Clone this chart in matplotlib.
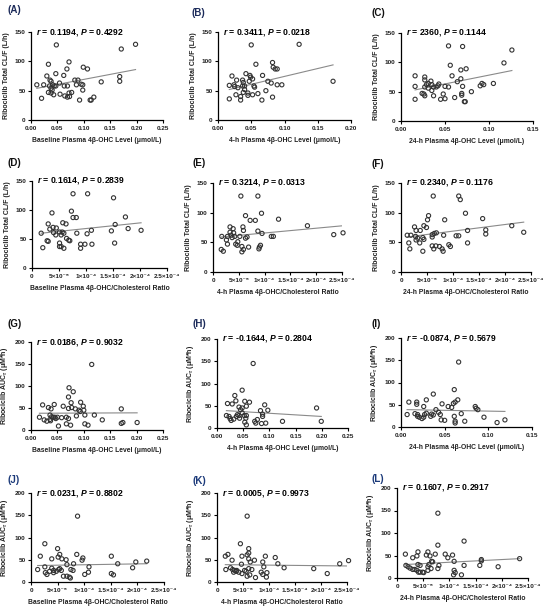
import numpy as np
import matplotlib
matplotlib.use('Agg')
import matplotlib.pyplot as plt

plt.rcParams['font.family'] = ['Liberation Sans', 'DejaVu Sans']
plt.rcParams['mathtext.fontset'] = 'custom'
plt.rcParams['mathtext.rm'] = 'Liberation Sans:bold'
plt.rcParams['mathtext.it'] = 'Liberation Sans:italic:bold'
plt.rcParams['mathtext.bf'] = 'Liberation Sans:bold'

# ---- data ----
# ratio panels are stored in units of 1e-5
a_x = [0.048, 0.171, 0.198, 0.033, 0.072, 0.068, 0.099, 0.107, 0.047, 0.062, 0.030, 0.011, 0.024, 0.036,
       0.038, 0.035, 0.041, 0.044, 0.047, 0.054, 0.063, 0.069, 0.083, 0.089, 0.086, 0.095, 0.098, 0.098,
       0.038, 0.040, 0.033, 0.038, 0.043, 0.055, 0.064, 0.069, 0.072, 0.077, 0.073, 0.020, 0.092, 0.112,
       0.114, 0.119, 0.133, 0.168, 0.168]
a_y = [128, 121, 129, 95, 99, 87, 90, 87, 79, 76, 75, 60, 60, 68, 66, 58, 60, 58, 58, 63, 58, 58, 68, 68,
       60, 61, 60, 51, 54, 51, 47, 46, 43, 44, 41, 39, 46, 47, 40, 37, 34, 34, 34, 39, 65, 66, 74]

b_x = [0.050, 0.122, 0.057, 0.082, 0.083, 0.086, 0.089, 0.021, 0.042, 0.049, 0.052, 0.067, 0.048, 0.028,
       0.037, 0.038, 0.047, 0.017, 0.024, 0.025, 0.030, 0.037, 0.040, 0.054, 0.075, 0.080, 0.096, 0.089,
       0.040, 0.038, 0.045, 0.045, 0.052, 0.027, 0.034, 0.034, 0.072, 0.060, 0.066, 0.082, 0.017, 0.173,
       0.055]
b_y = [128, 129, 95, 98, 90, 87, 87, 75, 79, 73, 70, 76, 76, 68, 68, 64, 66, 59, 60, 57, 55, 58, 58, 58,
       66, 63, 60, 60, 52, 47, 46, 42, 43, 43, 40, 34, 50, 45, 34, 39, 36, 66, 56]

c_x = [0.054, 0.070, 0.126, 0.056, 0.117, 0.068, 0.074, 0.058, 0.068, 0.016, 0.027, 0.027, 0.031, 0.034,
       0.035, 0.029, 0.037, 0.027, 0.043, 0.042, 0.050, 0.054, 0.064, 0.070, 0.016, 0.026, 0.027, 0.024,
       0.037, 0.048, 0.045, 0.050, 0.061, 0.069, 0.069, 0.072, 0.073, 0.080, 0.090, 0.092, 0.094, 0.105,
       0.016, 0.031, 0.035, 0.040]
c_y = [128, 127, 121, 95, 99, 87, 89, 77, 72, 77, 70, 75, 64, 68, 62, 62, 58, 58, 63, 60, 59, 58, 67, 59,
       59, 46, 43, 47, 43, 46, 37, 38, 40, 44, 47, 33, 33, 50, 60, 64, 62, 64, 37, 56, 52, 58]

d_x = [7.6, 10.3, 15.1, 3.7, 7.3, 7.6, 8.2, 17.3, 5.7, 6.3, 3.0, 3.3, 3.9, 4.5, 4.0, 5.1, 5.6, 5.9, 5.4,
       4.4, 1.7, 6.4, 6.8, 7.0, 8.3, 10.2, 11.0, 14.7, 15.4, 17.8, 20.2, 2.8, 3.0, 5.1, 5.1, 5.9, 5.4,
       9.0, 9.8, 9.0, 11.1, 15.3, 2.0]
d_y = [128, 128, 121, 95, 98, 87, 87, 88, 78, 76, 76, 67, 70, 69, 61, 62, 62, 60, 57, 57, 60, 51, 48, 47,
       60, 59, 65, 64, 75, 68, 65, 47, 46, 43, 37, 34, 37, 41, 41, 34, 41, 43, 35]

e_x = [5.4, 8.7, 6.3, 9.4, 7.2, 8.2, 12.7, 8.7, 3.3, 3.9, 5.8, 5.9, 3.3, 4.0, 3.5, 4.2, 2.8, 1.7, 2.6,
       3.7, 5.2, 6.3, 6.6, 9.5, 11.3, 11.7, 18.3, 23.4, 25.2, 2.8, 4.4, 4.7, 4.8, 5.6, 5.9, 5.6, 6.9,
       9.0, 8.9, 9.2, 1.6, 2.0]
e_y = [128, 128, 95, 99, 87, 87, 89, 69, 76, 73, 76, 70, 67, 66, 62, 60, 60, 60, 54, 58, 60, 57, 59, 65,
       60, 60, 78, 63, 66, 47, 47, 45, 51, 43, 38, 34, 42, 42, 39, 45, 38, 35]

f_x = [6.2, 11.1, 11.4, 12.4, 5.3, 5.1, 8.4, 15.7, 4.4, 4.9, 2.6, 2.9, 3.7, 1.2, 1.9, 2.8, 3.2, 2.9,
       4.2, 4.4, 6.0, 6.0, 6.4, 6.8, 8.2, 10.6, 11.1, 12.8, 16.3, 16.3, 21.3, 23.6, 3.6, 6.0, 6.3, 6.7,
       7.4, 7.9, 8.1, 9.2, 9.5, 12.8, 4.2, 1.7, 1.5]
f_y = [128, 128, 122, 99, 95, 88, 88, 90, 78, 75, 76, 70, 70, 62, 62, 60, 57, 54, 58, 55, 59, 63, 65, 66,
       62, 61, 61, 70, 71, 64, 78, 67, 49, 44, 39, 44, 43, 39, 35, 46, 43, 49, 35, 39, 49]

g_x = [0.115, 0.072, 0.080, 0.071, 0.094, 0.076, 0.099, 0.100, 0.091, 0.084, 0.077, 0.071, 0.061, 0.044,
       0.038, 0.022, 0.033, 0.171, 0.016, 0.025, 0.030, 0.036, 0.039, 0.042, 0.045, 0.047, 0.050, 0.036,
       0.058, 0.067, 0.071, 0.086, 0.093, 0.102, 0.120, 0.067, 0.075, 0.052, 0.102, 0.108, 0.135, 0.171,
       0.174, 0.201, 0.037]
g_y = [149, 96, 87, 75, 63, 62, 54, 45, 45, 48, 51, 49, 54, 58, 48, 57, 51, 48, 29, 23, 20, 24, 30, 29,
       29, 26, 29, 34, 28, 29, 26, 32, 42, 34, 34, 14, 11, 9, 14, 11, 23, 15, 17, 17, 21]

h_x = [0.069, 0.048, 0.034, 0.036, 0.053, 0.062, 0.056, 0.042, 0.048, 0.045, 0.020, 0.029, 0.091, 0.097,
       0.083, 0.087, 0.087, 0.190, 0.018, 0.023, 0.025, 0.027, 0.032, 0.037, 0.039, 0.042, 0.043, 0.052,
       0.055, 0.056, 0.053, 0.056, 0.072, 0.077, 0.074, 0.085, 0.093, 0.125, 0.199, 0.048]
h_y = [145, 85, 73, 61, 60, 58, 49, 47, 45, 41, 55, 54, 52, 40, 39, 31, 26, 45, 28, 26, 21, 17, 20, 26,
       30, 28, 22, 28, 22, 28, 13, 7, 15, 19, 11, 10, 11, 15, 15, 34]

i_x = [0.066, 0.061, 0.037, 0.029, 0.065, 0.062, 0.060, 0.054, 0.058, 0.047, 0.009, 0.018, 0.018, 0.026,
       0.040, 0.043, 0.085, 0.086, 0.088, 0.069, 0.007, 0.016, 0.019, 0.019, 0.021, 0.024, 0.026, 0.027,
       0.029, 0.034, 0.035, 0.037, 0.045, 0.046, 0.050, 0.061, 0.062, 0.062, 0.073, 0.095, 0.110, 0.119]
i_y = [146, 84, 74, 61, 61, 56, 53, 46, 44, 52, 56, 56, 51, 46, 39, 33, 46, 42, 39, 30, 28, 30, 28, 24,
       22, 19, 22, 28, 31, 24, 29, 27, 28, 16, 15, 24, 13, 9, 13, 22, 10, 16]

j_x = [8.75, 2.6, 5.0, 5.4, 8.6, 5.1, 1.75, 3.9, 5.8, 9.75, 9.6, 6.6, 8.0, 15.1, 16.3, 19.7, 21.75, 1.25,
       2.6, 2.7, 3.0, 3.5, 3.9, 4.25, 4.25, 4.75, 5.2, 5.4, 5.7, 6.75, 7.5, 7.9, 6.1, 6.75, 7.2, 7.4,
       10.1, 10.8, 10.9, 15.1, 15.5, 19.1]
j_y = [148, 86, 75, 62, 62, 56, 58, 52, 52, 54, 49, 50, 41, 58, 41, 45, 47, 28, 34, 21, 17, 24, 31, 26,
       21, 24, 28, 30, 26, 39, 28, 26, 13, 13, 11, 9, 17, 22, 34, 19, 16, 32]

k_x = [5.8, 4.5, 6.1, 6.1, 5.8, 1.6, 2.1, 2.9, 4.8, 6.1, 6.4, 7.2, 9.3, 8.8, 11.2, 11.7, 4.7, 9.0, 12.9,
       18.6, 23.6, 25.3, 21.2, 1.7, 2.6, 3.0, 3.2, 3.4, 3.7, 3.8, 4.2, 4.8, 5.3, 5.6, 6.1, 6.7, 5.8,
       6.3, 7.4, 8.5, 9.6, 9.5, 8.8]
k_y = [148, 86, 75, 65, 61, 58, 62, 49, 58, 52, 45, 49, 58, 45, 55, 41, 40, 34, 32, 30, 41, 48, 19, 28,
       32, 28, 22, 26, 24, 26, 22, 19, 26, 24, 30, 28, 13, 16, 10, 22, 21, 11, 17]

l_x = [7.8, 12.8, 7.8, 7.3, 5.9, 4.0, 3.0, 3.8, 5.6, 9.2, 9.7, 10.6, 10.9, 1.6, 6.3, 6.6, 7.8, 8.0,
       10.9, 11.1, 10.8, 12.3, 12.8, 15.8, 16.1, 16.1, 19.3, 23.4, 1.7, 2.1, 2.5, 3.0, 3.4, 3.8, 4.1,
       4.4, 4.9, 5.1, 4.0, 4.4, 5.9, 5.9, 6.1, 6.5, 6.8]
l_y = [144, 82, 73, 53, 58, 58, 45, 49, 51, 53, 45, 51, 37, 53, 49, 37, 21, 28, 17, 12, 7, 7, 28, 28, 38,
       41, 25, 43, 28, 25, 22, 19, 19, 17, 13, 13, 13, 12, 30, 28, 25, 17, 30, 21, 36]

# fitted line (slope, intercept) as drawn in the figure
fit_lines = {'A': (171, 52.1), 'B': (269, 47.4), 'C': (300, 48.2),
             'D': (0.973, 58.3), 'E': (0.805, 57.7), 'F': (1.116, 57.7),
             'G': (5, 38.0), 'H': (-72, 40.3), 'I': (-36, 39.3),
             'J': (0.195, 36.8), 'K': (-0.127, 39.2), 'L': (0.6, 29.0)}

stats = {'A': ('0.1194', '0.4292'), 'B': ('0.3411', '0.0218'), 'C': ('2360', '0.1144'),
         'D': ('0.1614', '0.2839'), 'E': ('0.3214', '0.0313'), 'F': ('0.2340', '0.1176'),
         'G': ('0.0186', '0.9032'), 'H': ('-0.1644', '0.2804'), 'I': ('-0.0874', '0.5679'),
         'J': ('0.0231', '0.8802'), 'K': ('0.0005', '0.9973'), 'L': ('0.1607', '0.2917')}

level_ticks_25 = [0.00, 0.05, 0.10, 0.15, 0.20, 0.25]
level_ticks_20 = [0.00, 0.05, 0.10, 0.15, 0.20]
level_ticks_15 = [0.00, 0.05, 0.10, 0.15]
ratio_ticks = [0, 5, 10, 15, 20, 25]
ratio_labels = ['0', '5×10⁻⁵', '1×10⁻⁴', '1.5×10⁻⁴', '2×10⁻⁴', '2.5×10⁻⁴']

cl_label = 'Ribociclib Total CL/F (L/h)'
auc_label = r'Ribociclib AUC$_{\tau}$ (μM*h)'
times = ['Baseline', '4-h', '24-h']

# panel boxes in pixels: left, right, top, bottom
boxes = {'A': (31, 163, 32, 120), 'B': (218, 351, 32, 120), 'C': (401, 533, 33, 121),
         'D': (32, 167, 181, 268), 'E': (213, 342, 183, 272), 'F': (401, 531, 183, 272),
         'G': (31, 163, 342, 430), 'H': (217, 348, 339, 428), 'I': (401, 532, 338, 427),
         'J': (31, 164, 493, 582), 'K': (217, 347, 493, 582), 'L': (397, 528, 488, 578)}
tag_pos = {'A': (7, 10), 'B': (191, 13), 'C': (372, 13), 'D': (7, 163), 'E': (192, 163),
           'F': (372, 164), 'G': (7, 324), 'H': (192, 324), 'I': (372, 324), 'J': (8, 480),
           'K': (192, 481), 'L': (372, 479)}
tag_colors = {'A': '#1c2b5a', 'B': '#1c2b5a', 'H': '#1c2b5a', 'J': '#1c3a7a', 'K': '#1c3a7a', 'L': '#1c3a7a'}

W, H = 550, 609
fig = plt.figure(figsize=(W / 100, H / 100), dpi=100)

panels = [
    ('A', a_x, a_y, 1.0, (0, 0.25), level_ticks_25, None, cl_label, (0, 150), 0),
    ('B', b_x, b_y, 1.0, (0, 0.20), level_ticks_20, None, cl_label, (0, 150), 1),
    ('C', c_x, c_y, 1.0, (0, 0.15), level_ticks_15, None, cl_label, (0, 150), 2),
    ('D', d_x, d_y, 1e-5, (0, 25), ratio_ticks, ratio_labels, cl_label, (0, 150), 0),
    ('E', e_x, e_y, 1e-5, (0, 25), ratio_ticks, ratio_labels, cl_label, (0, 150), 1),
    ('F', f_x, f_y, 1e-5, (0, 25), ratio_ticks, ratio_labels, cl_label, (0, 150), 2),
    ('G', g_x, g_y, 1.0, (0, 0.25), level_ticks_25, None, auc_label, (0, 200), 0),
    ('H', h_x, h_y, 1.0, (0, 0.25), level_ticks_25, None, auc_label, (0, 200), 1),
    ('I', i_x, i_y, 1.0, (0, 0.15), level_ticks_15, None, auc_label, (0, 200), 2),
    ('J', j_x, j_y, 1e-5, (0, 25), ratio_ticks, ratio_labels, auc_label, (0, 200), 0),
    ('K', k_x, k_y, 1e-5, (0, 25), ratio_ticks, ratio_labels, auc_label, (0, 200), 1),
    ('L', l_x, l_y, 1e-5, (0, 25), ratio_ticks, ratio_labels, auc_label, (0, 200), 2),
]

for tag, xs, ys, unit, xlim, xticks, xticklabels, ylabel, ylim, col in panels:
    l, r, t, b = boxes[tag]
    ax = fig.add_axes([l / W, 1 - b / H, (r - l) / W, (b - t) / H])
    xs = np.array(xs)
    ys = np.array(ys)

    ax.scatter(xs, ys, s=9, facecolors='none', edgecolors='#333333', linewidths=0.8, zorder=3,
               clip_on=False)
    slope, icpt = fit_lines[tag]
    xx = np.array([xs.min(), xs.max()])
    ax.plot(xx, slope * xx + icpt, color='#8a8a8a', lw=0.8, zorder=2)

    ax.set_xlim(*xlim)
    ax.set_ylim(*ylim)
    ax.set_xticks(xticks)
    if xticklabels is None:
        ax.set_xticklabels(['%.2f' % v for v in xticks])
    else:
        ax.set_xticklabels(xticklabels)
    ax.set_yticks(np.arange(0, ylim[1] + 1, 50))

    for s in ['top', 'right']:
        ax.spines[s].set_visible(False)
    for s in ['left', 'bottom']:
        ax.spines[s].set_linewidth(0.9)
    ax.tick_params(length=2.5, width=0.8, pad=1.5, labelsize=4.6, labelcolor='#222222')
    for lab in ax.get_xticklabels() + ax.get_yticklabels():
        lab.set_fontweight('bold')

    if unit == 1.0:
        xlabel = '%s Plasma 4β-OHC Level (μmol/L)' % times[col]
    else:
        xlabel = '%s Plasma 4β-OHC/Cholesterol Ratio' % times[col]
    ax.set_xlabel(xlabel, fontsize=4.9, fontweight='bold', color='#222222')
    ax.xaxis.set_label_coords(0.5, -17 / (b - t))
    ax.set_ylabel(ylabel, fontsize=5.0, fontweight='bold', color='#222222')
    ax.yaxis.set_label_coords(-21 / (r - l), 0.5)

    rv, pv = stats[tag]
    ax.text(0.04, 1.0, r'$r$ = %s, $P$ = %s' % (rv, pv), transform=ax.transAxes,
            fontsize=6.2, fontweight='bold', va='center', ha='left')

    tx, ty = tag_pos[tag]
    fig.text(tx / W, 1 - ty / H, '(%s)' % tag, fontsize=7, fontweight='bold',
             color=tag_colors.get(tag, '#111111'), va='center', ha='left')

fig.savefig('out.png', dpi=100)
